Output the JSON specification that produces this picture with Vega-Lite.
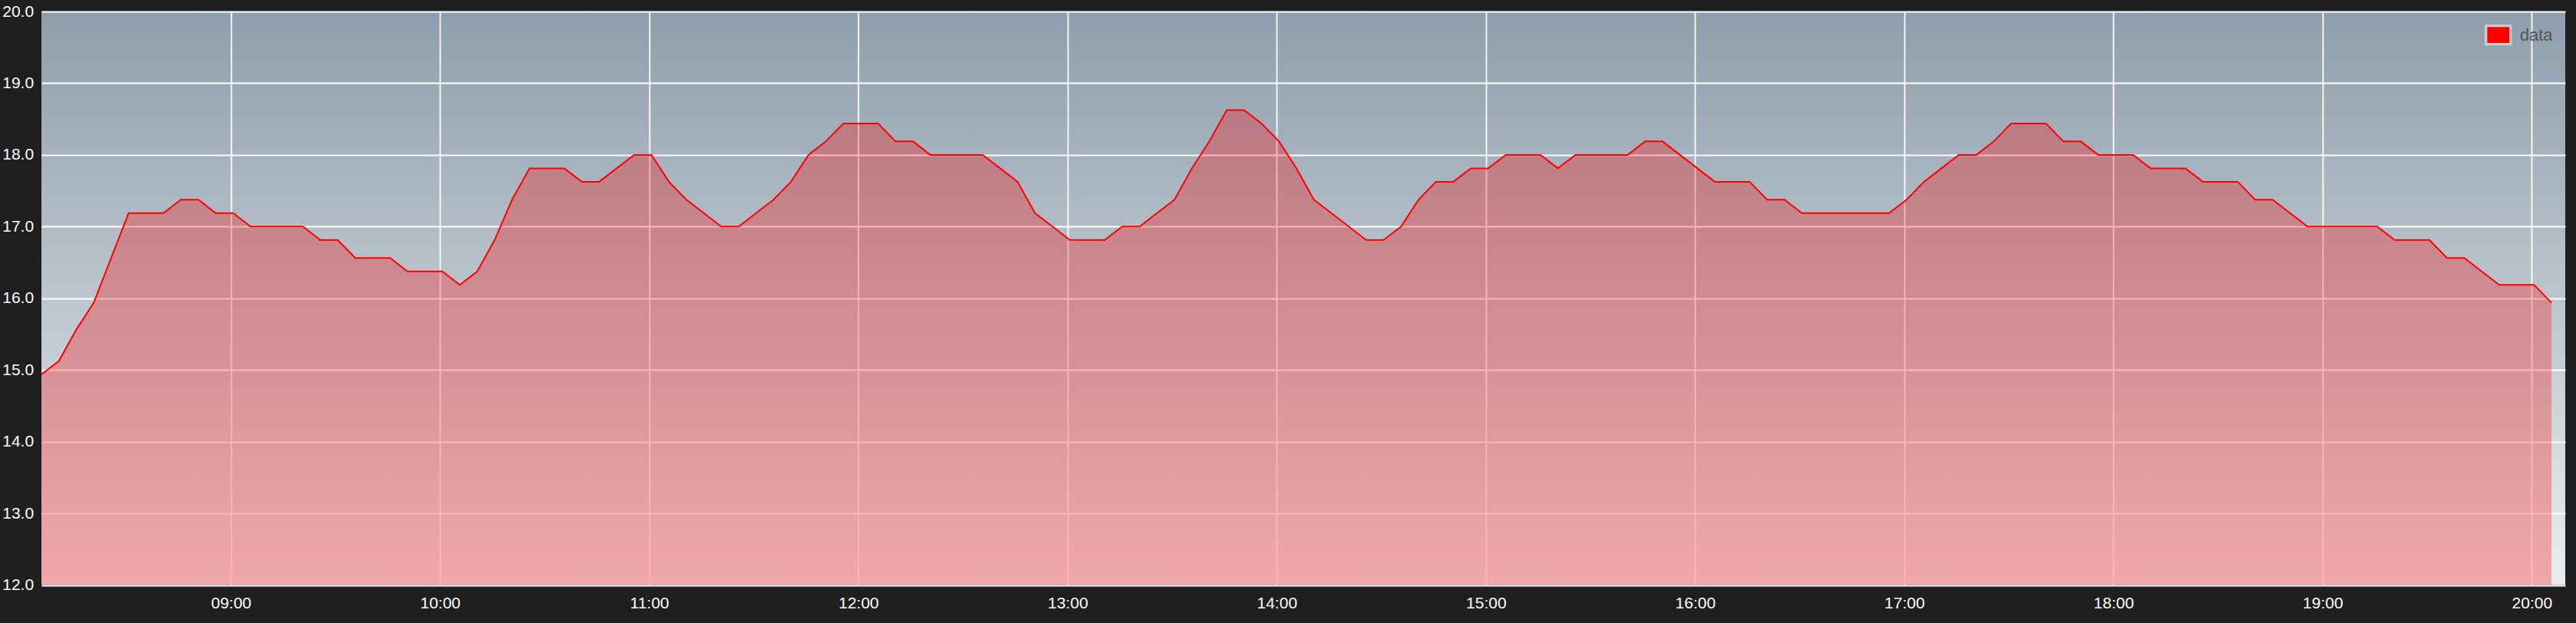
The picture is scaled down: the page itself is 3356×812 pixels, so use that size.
{
  "$schema": "https://vega.github.io/schema/vega-lite/v6.json",
  "autosize": {"type": "none"},
  "width": 3288,
  "height": 747.5,
  "padding": {"left": 54, "top": 15, "right": 14, "bottom": 49.5},
  "background": "#1f1f1f",
  "config": {
    "view": {
      "stroke": null,
      "fill": {"gradient": "linear", "x1": 0, "y1": 0, "x2": 0, "y2": 1,
        "stops": [{"offset": 0, "color": "#8e9eac"}, {"offset": 1, "color": "#eaedef"}]}
    },
    "axis": {
      "domain": false, "ticks": false, "tickSize": 0, "title": null,
      "grid": true, "gridColor": "#ffffff", "gridOpacity": 1, "gridWidth": 1.8,
      "labelColor": "#ffffff", "labelFont": "Liberation Sans", "labelFontSize": 21,
      "labelFlush": false, "labelOverlap": false
    }
  },
  "data": {"values": [
    {"t": "2024-01-01T08:05:40Z", "v": 14.9375}, {"t": "2024-01-01T08:10:40Z", "v": 15.125}, {"t": "2024-01-01T08:15:40Z", "v": 15.5625}, {"t": "2024-01-01T08:20:40Z", "v": 15.9375}, {"t": "2024-01-01T08:25:40Z", "v": 16.5625}, {"t": "2024-01-01T08:30:40Z", "v": 17.1875}, {"t": "2024-01-01T08:35:40Z", "v": 17.1875}, {"t": "2024-01-01T08:40:40Z", "v": 17.1875}, {"t": "2024-01-01T08:45:40Z", "v": 17.375}, {"t": "2024-01-01T08:50:40Z", "v": 17.375}, {"t": "2024-01-01T08:55:40Z", "v": 17.1875},
    {"t": "2024-01-01T09:00:40Z", "v": 17.1875}, {"t": "2024-01-01T09:05:40Z", "v": 17.0}, {"t": "2024-01-01T09:10:40Z", "v": 17.0}, {"t": "2024-01-01T09:15:40Z", "v": 17.0}, {"t": "2024-01-01T09:20:40Z", "v": 17.0}, {"t": "2024-01-01T09:25:40Z", "v": 16.8125}, {"t": "2024-01-01T09:30:40Z", "v": 16.8125}, {"t": "2024-01-01T09:35:40Z", "v": 16.5625}, {"t": "2024-01-01T09:40:40Z", "v": 16.5625}, {"t": "2024-01-01T09:45:40Z", "v": 16.5625}, {"t": "2024-01-01T09:50:40Z", "v": 16.375}, {"t": "2024-01-01T09:55:40Z", "v": 16.375},
    {"t": "2024-01-01T10:00:40Z", "v": 16.375}, {"t": "2024-01-01T10:05:40Z", "v": 16.1875}, {"t": "2024-01-01T10:10:40Z", "v": 16.375}, {"t": "2024-01-01T10:15:40Z", "v": 16.8125}, {"t": "2024-01-01T10:20:40Z", "v": 17.375}, {"t": "2024-01-01T10:25:40Z", "v": 17.8125}, {"t": "2024-01-01T10:30:40Z", "v": 17.8125}, {"t": "2024-01-01T10:35:40Z", "v": 17.8125}, {"t": "2024-01-01T10:40:40Z", "v": 17.625}, {"t": "2024-01-01T10:45:40Z", "v": 17.625}, {"t": "2024-01-01T10:50:40Z", "v": 17.8125}, {"t": "2024-01-01T10:55:40Z", "v": 18.0},
    {"t": "2024-01-01T11:00:40Z", "v": 18.0}, {"t": "2024-01-01T11:05:40Z", "v": 17.625}, {"t": "2024-01-01T11:10:40Z", "v": 17.375}, {"t": "2024-01-01T11:15:40Z", "v": 17.1875}, {"t": "2024-01-01T11:20:40Z", "v": 17.0}, {"t": "2024-01-01T11:25:40Z", "v": 17.0}, {"t": "2024-01-01T11:30:40Z", "v": 17.1875}, {"t": "2024-01-01T11:35:40Z", "v": 17.375}, {"t": "2024-01-01T11:40:40Z", "v": 17.625}, {"t": "2024-01-01T11:45:40Z", "v": 18.0}, {"t": "2024-01-01T11:50:40Z", "v": 18.1875}, {"t": "2024-01-01T11:55:40Z", "v": 18.4375},
    {"t": "2024-01-01T12:00:40Z", "v": 18.4375}, {"t": "2024-01-01T12:05:40Z", "v": 18.4375}, {"t": "2024-01-01T12:10:40Z", "v": 18.1875}, {"t": "2024-01-01T12:15:40Z", "v": 18.1875}, {"t": "2024-01-01T12:20:40Z", "v": 18.0}, {"t": "2024-01-01T12:25:40Z", "v": 18.0}, {"t": "2024-01-01T12:30:40Z", "v": 18.0}, {"t": "2024-01-01T12:35:40Z", "v": 18.0}, {"t": "2024-01-01T12:40:40Z", "v": 17.8125}, {"t": "2024-01-01T12:45:40Z", "v": 17.625}, {"t": "2024-01-01T12:50:40Z", "v": 17.1875}, {"t": "2024-01-01T12:55:40Z", "v": 17.0},
    {"t": "2024-01-01T13:00:40Z", "v": 16.8125}, {"t": "2024-01-01T13:05:40Z", "v": 16.8125}, {"t": "2024-01-01T13:10:40Z", "v": 16.8125}, {"t": "2024-01-01T13:15:40Z", "v": 17.0}, {"t": "2024-01-01T13:20:40Z", "v": 17.0}, {"t": "2024-01-01T13:25:40Z", "v": 17.1875}, {"t": "2024-01-01T13:30:40Z", "v": 17.375}, {"t": "2024-01-01T13:35:40Z", "v": 17.8125}, {"t": "2024-01-01T13:40:40Z", "v": 18.1875}, {"t": "2024-01-01T13:45:40Z", "v": 18.625}, {"t": "2024-01-01T13:50:40Z", "v": 18.625}, {"t": "2024-01-01T13:55:40Z", "v": 18.4375},
    {"t": "2024-01-01T14:00:40Z", "v": 18.1875}, {"t": "2024-01-01T14:05:40Z", "v": 17.8125}, {"t": "2024-01-01T14:10:40Z", "v": 17.375}, {"t": "2024-01-01T14:15:40Z", "v": 17.1875}, {"t": "2024-01-01T14:20:40Z", "v": 17.0}, {"t": "2024-01-01T14:25:40Z", "v": 16.8125}, {"t": "2024-01-01T14:30:40Z", "v": 16.8125}, {"t": "2024-01-01T14:35:40Z", "v": 17.0}, {"t": "2024-01-01T14:40:40Z", "v": 17.375}, {"t": "2024-01-01T14:45:40Z", "v": 17.625}, {"t": "2024-01-01T14:50:40Z", "v": 17.625}, {"t": "2024-01-01T14:55:40Z", "v": 17.8125},
    {"t": "2024-01-01T15:00:40Z", "v": 17.8125}, {"t": "2024-01-01T15:05:40Z", "v": 18.0}, {"t": "2024-01-01T15:10:40Z", "v": 18.0}, {"t": "2024-01-01T15:15:40Z", "v": 18.0}, {"t": "2024-01-01T15:20:40Z", "v": 17.8125}, {"t": "2024-01-01T15:25:40Z", "v": 18.0}, {"t": "2024-01-01T15:30:40Z", "v": 18.0}, {"t": "2024-01-01T15:35:40Z", "v": 18.0}, {"t": "2024-01-01T15:40:40Z", "v": 18.0}, {"t": "2024-01-01T15:45:40Z", "v": 18.1875}, {"t": "2024-01-01T15:50:40Z", "v": 18.1875}, {"t": "2024-01-01T15:55:40Z", "v": 18.0},
    {"t": "2024-01-01T16:00:40Z", "v": 17.8125}, {"t": "2024-01-01T16:05:40Z", "v": 17.625}, {"t": "2024-01-01T16:10:40Z", "v": 17.625}, {"t": "2024-01-01T16:15:40Z", "v": 17.625}, {"t": "2024-01-01T16:20:40Z", "v": 17.375}, {"t": "2024-01-01T16:25:40Z", "v": 17.375}, {"t": "2024-01-01T16:30:40Z", "v": 17.1875}, {"t": "2024-01-01T16:35:40Z", "v": 17.1875}, {"t": "2024-01-01T16:40:40Z", "v": 17.1875}, {"t": "2024-01-01T16:45:40Z", "v": 17.1875}, {"t": "2024-01-01T16:50:40Z", "v": 17.1875}, {"t": "2024-01-01T16:55:40Z", "v": 17.1875},
    {"t": "2024-01-01T17:00:40Z", "v": 17.375}, {"t": "2024-01-01T17:05:40Z", "v": 17.625}, {"t": "2024-01-01T17:10:40Z", "v": 17.8125}, {"t": "2024-01-01T17:15:40Z", "v": 18.0}, {"t": "2024-01-01T17:20:40Z", "v": 18.0}, {"t": "2024-01-01T17:25:40Z", "v": 18.1875}, {"t": "2024-01-01T17:30:40Z", "v": 18.4375}, {"t": "2024-01-01T17:35:40Z", "v": 18.4375}, {"t": "2024-01-01T17:40:40Z", "v": 18.4375}, {"t": "2024-01-01T17:45:40Z", "v": 18.1875}, {"t": "2024-01-01T17:50:40Z", "v": 18.1875}, {"t": "2024-01-01T17:55:40Z", "v": 18.0},
    {"t": "2024-01-01T18:00:40Z", "v": 18.0}, {"t": "2024-01-01T18:05:40Z", "v": 18.0}, {"t": "2024-01-01T18:10:40Z", "v": 17.8125}, {"t": "2024-01-01T18:15:40Z", "v": 17.8125}, {"t": "2024-01-01T18:20:40Z", "v": 17.8125}, {"t": "2024-01-01T18:25:40Z", "v": 17.625}, {"t": "2024-01-01T18:30:40Z", "v": 17.625}, {"t": "2024-01-01T18:35:40Z", "v": 17.625}, {"t": "2024-01-01T18:40:40Z", "v": 17.375}, {"t": "2024-01-01T18:45:40Z", "v": 17.375}, {"t": "2024-01-01T18:50:40Z", "v": 17.1875}, {"t": "2024-01-01T18:55:40Z", "v": 17.0},
    {"t": "2024-01-01T19:00:40Z", "v": 17.0}, {"t": "2024-01-01T19:05:40Z", "v": 17.0}, {"t": "2024-01-01T19:10:40Z", "v": 17.0}, {"t": "2024-01-01T19:15:40Z", "v": 17.0}, {"t": "2024-01-01T19:20:40Z", "v": 16.8125}, {"t": "2024-01-01T19:25:40Z", "v": 16.8125}, {"t": "2024-01-01T19:30:40Z", "v": 16.8125}, {"t": "2024-01-01T19:35:40Z", "v": 16.5625}, {"t": "2024-01-01T19:40:40Z", "v": 16.5625}, {"t": "2024-01-01T19:45:40Z", "v": 16.375}, {"t": "2024-01-01T19:50:40Z", "v": 16.1875}, {"t": "2024-01-01T19:55:40Z", "v": 16.1875},
    {"t": "2024-01-01T20:00:40Z", "v": 16.1875}, {"t": "2024-01-01T20:05:40Z", "v": 15.9375}
  ]},
  "encoding": {
    "x": {
      "field": "t", "type": "temporal",
      "scale": {"type": "utc", "domain": [1704096340000, 1704139777000], "nice": false},
      "axis": {
        "format": "%H:%M",
        "values": [1704099600000, 1704103200000, 1704106800000, 1704110400000, 1704114000000, 1704117600000, 1704121200000, 1704124800000, 1704128400000, 1704132000000, 1704135600000, 1704139200000],
        "labelPadding": 12.5, "labelAlign": "center"
      }
    },
    "y": {
      "field": "v", "type": "quantitative",
      "scale": {"domain": [12, 20], "zero": false, "nice": false},
      "axis": {"values": [12, 13, 14, 15, 16, 17, 18, 19, 20], "format": ".1f", "labelAlign": "left", "labelPadding": 51.3, "labelBaseline": "middle"}
    }
  },
  "layer": [
    {
      "mark": {"type": "area", "fillOpacity": 0.29, "line": false, "clip": true},
      "encoding": {
        "color": {
          "datum": "data",
          "scale": {"range": ["#ff0000"]},
          "legend": {
            "title": null, "orient": "none", "legendX": 3182.7, "legendY": 12.7, "padding": 0,
            "symbolType": "M-1,-0.75H1V0.75H-1Z", "symbolSize": 1024,
            "symbolFillColor": "#ff0000", "symbolStrokeColor": "#cccccc", "symbolStrokeWidth": 3.3, "symbolOpacity": 1,
            "labelFont": "Liberation Sans", "labelFontSize": 22, "labelColor": "#555555", "labelOffset": 10
          }
        }
      }
    },
    {
      "mark": {"type": "line", "color": "#ff0000", "strokeWidth": 2},
      "encoding": {}
    }
  ]
}
